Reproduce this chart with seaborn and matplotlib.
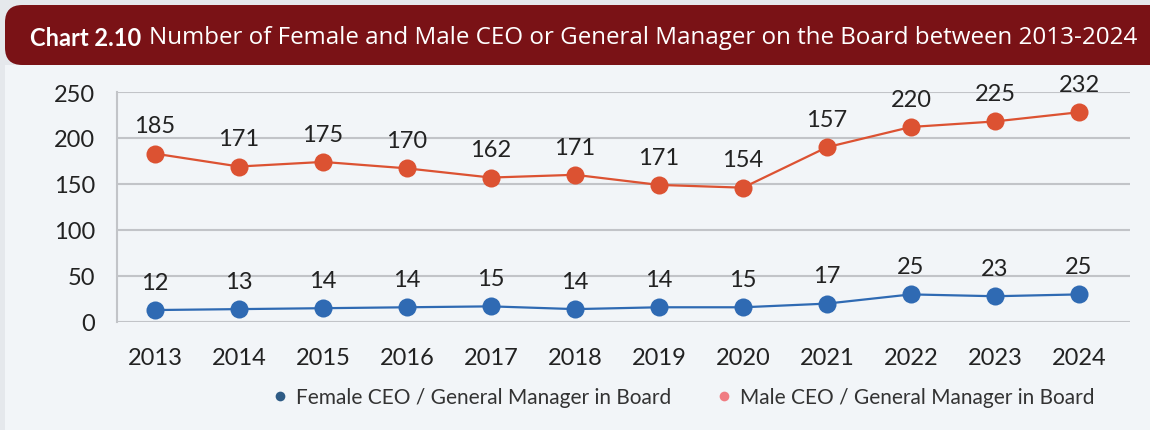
import pandas as pd
import seaborn as sns
import matplotlib.pyplot as plt
from matplotlib.patches import FancyBboxPatch, Rectangle
from matplotlib.lines import Line2D

years = [2013, 2014, 2015, 2016, 2017, 2018, 2019, 2020, 2021, 2022, 2023, 2024]
# plotted positions
male_pos = [183, 169, 174, 167, 157, 160, 149, 146, 190, 212, 218, 228]
female_pos = [13, 14, 15, 16, 17, 14, 16, 16, 20, 30, 28, 30]
# values printed above the points
male_labels = [185, 171, 175, 170, 162, 171, 171, 154, 157, 220, 225, 232]
female_labels = [12, 13, 14, 14, 15, 14, 14, 15, 17, 25, 23, 25]

female_name = 'Female CEO / General Manager in Board'
male_name = 'Male CEO / General Manager in Board'

df = pd.DataFrame({
    'Year': years * 2,
    'Count': male_pos + female_pos,
    'Label': male_labels + female_labels,
    'Group': [male_name] * len(years) + [female_name] * len(years),
})

sns.set_style('white')
plt.rcParams['font.family'] = ['Lato', 'DejaVu Sans']

fig = plt.figure(figsize=(11.5, 4.31), dpi=100, facecolor='#e5e8ec')

# content background and title bar
fig.patches.append(Rectangle((5 / 1150, 0), 1, 1 - 66 / 431, transform=fig.transFigure,
                             facecolor='#f2f5f8', edgecolor='none', zorder=-2))
fig.patches.append(FancyBboxPatch((5 / 1150, 1 - 66 / 431), 1.05, 60 / 431,
                                  boxstyle='round,pad=0,rounding_size=0.015',
                                  mutation_aspect=1150 / 431,
                                  transform=fig.transFigure,
                                  facecolor='#7a1216', edgecolor='none', zorder=-1))

t1 = fig.text(30 / 1150, 1 - 38 / 431, 'Chart 2.10', color='white', fontsize=17,
              fontweight='bold', va='center', ha='left')

ax = fig.add_axes([117 / 1150, 1 - 323 / 431, (1130 - 117) / 1150, 230 / 431])
ax.set_zorder(2)
ax.set_facecolor('#f2f5f8')
ax.annotate('Number of Female and Male CEO or General Manager on the Board between 2013-2024',
            xy=(1, 0.5), xycoords=t1, xytext=(8, 0), textcoords='offset pixels',
            va='center', ha='left', color='white', fontsize=17.4,
            family=['Open Sans', 'DejaVu Sans'], annotation_clip=False)

palette = {male_name: '#dc5232', female_name: '#2f6ab3'}
sns.lineplot(data=df, x='Year', y='Count', hue='Group', palette=palette, marker='o',
             markersize=13, markeredgewidth=0, linewidth=1.6, legend=False, ax=ax)

for _, r in df.iterrows():
    ax.annotate(str(r['Label']), (r['Year'], r['Count']), xytext=(0, 20),
                textcoords='offset points', ha='center', va='center',
                fontsize=17, color='#222222')

ax.set_xlim(2012.548, 2024.607)
ax.set_ylim(0, 250)
ax.set_xticks(years)
ax.set_yticks([0, 50, 100, 150, 200, 250])
ax.tick_params(axis='both', length=0, labelsize=17, labelcolor='#222222')
ax.tick_params(axis='x', pad=18)
ax.tick_params(axis='y', pad=16)
ax.grid(axis='y', color='#c2c4c8', linewidth=1.5)
ax.set_axisbelow(True)
for s in ['top', 'right', 'bottom']:
    ax.spines[s].set_visible(False)
ax.spines['left'].set_color('#c2c4c8')
ax.spines['left'].set_linewidth(1.5)
ax.set_xlabel('')
ax.set_ylabel('')

handles = [
    Line2D([], [], linestyle='none', marker='o', markersize=7, markeredgewidth=0,
           color='#2e5b85', label=female_name),
    Line2D([], [], linestyle='none', marker='o', markersize=7, markeredgewidth=0,
           color='#f07c82', label=male_name),
]
fig.legend(handles=handles, loc='center', bbox_to_anchor=(682 / 1150, 1 - 398 / 431),
           ncol=2, frameon=False, fontsize=15, handletextpad=0.3, columnspacing=2.0,
           labelcolor='#333333', handlelength=1.0)

fig.savefig('out.png', dpi=100, facecolor=fig.get_facecolor())
